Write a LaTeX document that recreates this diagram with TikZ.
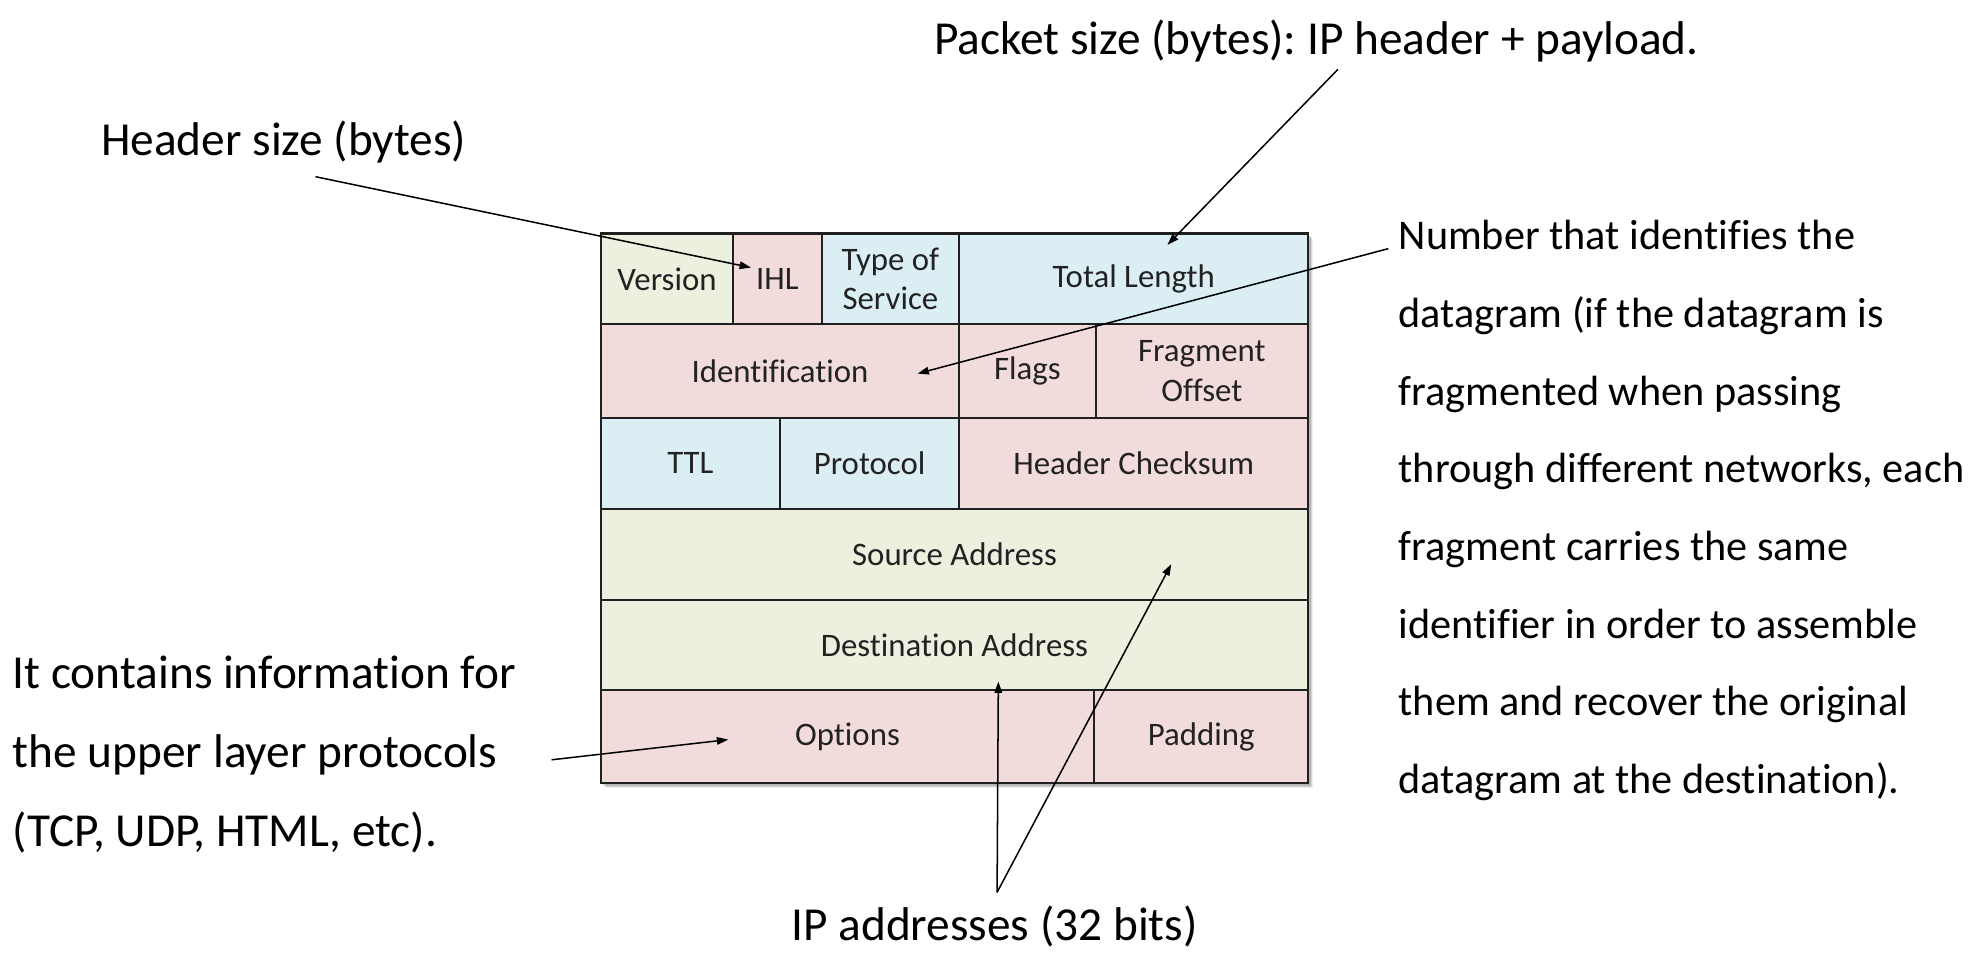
\documentclass[tikz,border=0pt]{standalone}
\usepackage{fontspec}
\setmainfont[Ligatures=NoCommon]{Carlito}
\usetikzlibrary{arrows.meta}
\definecolor{cellgreen}{HTML}{EBF1DE}
\definecolor{cellpink}{HTML}{F2DCDB}
\definecolor{cellblue}{HTML}{DBEEF3}
\definecolor{gridline}{HTML}{202020}
\definecolor{celltext}{HTML}{222222}
\frenchspacing

\begin{document}
\begin{tikzpicture}[x=1pt,y=-1pt,
  cell/.style={draw=gridline, line width=1.6pt, inner sep=0pt, anchor=center,
    align=center, text=celltext, font=\fontsize{26}{31}\selectfont},
  note/.style={inner sep=0pt, anchor=base west, font=\fontsize{37.5}{45}\selectfont},
  rnote/.style={inner sep=0pt, anchor=base west, font=\fontsize{33.5}{40}\selectfont},
  pointer/.style={line width=1.2pt, -{Triangle[length=9pt,width=6pt]}},
]
% page
\fill[white] (0,0) rectangle (1568,755);
\useasboundingbox (0,0) rectangle (1568,755);

% soft shadow under the header table
\foreach \s/\o in {4/0.07, 3/0.10, 2/0.14}
  \fill[black, opacity=\o] (476+\s,185+\s) rectangle (1036.5+\s,620.5+\s);

% row 1
\node[cell, fill=cellgreen, minimum width=105pt,   minimum height=72pt] (version) at (528.5,221)  {Version};
\node[cell, fill=cellpink,  minimum width=70pt,    minimum height=72pt] (ihl)     at (616,221)    {IHL};
\node[cell, fill=cellblue,  minimum width=109pt,   minimum height=72pt] (tos)     at (705.5,221)  {Type of\\Service};
\node[cell, fill=cellblue,  minimum width=276.5pt, minimum height=72pt] (totlen)  at (898.25,221) {Total Length};
% row 2
\node[cell, fill=cellpink,  minimum width=284pt,   minimum height=74pt] (ident)   at (618,294)    {Identification};
\node[cell, fill=cellpink,  minimum width=108pt,   minimum height=74pt] (flags)   at (814,294)    {Flags};
\node[cell, fill=cellpink,  minimum width=168.5pt, minimum height=74pt] (fragoff) at (952.25,294) {Fragment\\Offset};
% row 3
\node[cell, fill=cellblue,  minimum width=142pt,   minimum height=72pt] (ttl)     at (547,367)    {TTL};
\node[cell, fill=cellblue,  minimum width=142pt,   minimum height=72pt] (proto)   at (689,367)    {Protocol};
\node[cell, fill=cellpink,  minimum width=276.5pt, minimum height=72pt] (chksum)  at (898.25,367) {Header Checksum};
% rows 4 and 5
\node[cell, fill=cellgreen, minimum width=560.5pt, minimum height=72pt] (src)     at (756.25,439) {Source Address};
\node[cell, fill=cellgreen, minimum width=560.5pt, minimum height=72pt] (dst)     at (756.25,511) {Destination Address};
% row 6
\node[cell, fill=cellpink,  minimum width=391pt,   minimum height=73.5pt] (opts)  at (671.5,583.75)  {Options};
\node[cell, fill=cellpink,  minimum width=169.5pt, minimum height=73.5pt] (pad)   at (951.75,583.75) {Padding};

% outer frame
\draw[gridline, line width=2pt] (476,185) rectangle (1036.5,620.5);

% annotations
\node[note] (pktsize) at (740,43.5) {Packet size (bytes): IP header + payload.};
\node[note] (hdrsize) at (80,123.5) {Header size (bytes)};

\node[rnote] (id1) at (1108,198)   {Number that identifies the};
\node[rnote] (id2) at (1108,259.5) {datagram (if the datagram is};
\node[rnote] (id3) at (1108,321)   {fragmented when passing};
\node[rnote] (id4) at (1108,382.5) {through different networks, each};
\node[rnote] (id5) at (1108,444)   {fragment carries the same};
\node[rnote] (id6) at (1108,505.5) {identifier in order to assemble};
\node[rnote] (id7) at (1108,567)   {them and recover the original};
\node[rnote] (id8) at (1108,628.5) {datagram at the destination).};

\node[note] (up1) at (10,545.5) {It contains information for};
\node[note] (up2) at (10,608)   {the upper layer protocols};
\node[note] (up3) at (10,670.5) {(TCP, UDP, HTML, etc).};

\node[note, anchor=base] (ipaddr) at (788,745.5) {IP addresses (32 bits)};

% connector ends
\coordinate (hdr-tail)  at (250,140);
\coordinate (ihl-tip)   at (595,212);
\coordinate (pkt-tail)  at (1060,55);
\coordinate (len-tip)   at (925,194);
\coordinate (id-tail)   at (1100,197);
\coordinate (id-tip)    at (727,296);
\coordinate (opt-tail)  at (437,602);
\coordinate (opt-tip)   at (577,586);
\coordinate (ip-tail)   at (790,707);
\coordinate (dst-tip)   at (791,540);
\coordinate (src-tip)   at (928,447);

% connectors
\draw[pointer] (hdr-tail) -- (ihl-tip);
\draw[pointer] (pkt-tail) -- (len-tip);
\draw[pointer] (id-tail) -- (id-tip);
\draw[pointer] (opt-tail) -- (opt-tip);
\draw[pointer] (ip-tail) -- (dst-tip);
\draw[pointer] (ip-tail) -- (src-tip);
\end{tikzpicture}
\end{document}
